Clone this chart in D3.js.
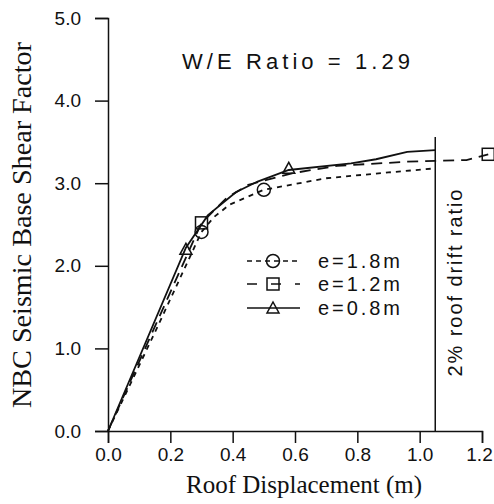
<!DOCTYPE html>
<html>
<head>
<meta charset="utf-8">
<script src="https://cdn.jsdelivr.net/npm/d3@7"></script>
<style>
  body { margin: 0; background: #fff; }
  text { fill: #111; }
</style>
</head>
<body>
<div id="chart"></div>
<script>
// Data
var xTicks = [0, 0.2, 0.4, 0.6, 0.8, 1.0, 1.2];
var yTicks = [0, 1, 2, 3, 4, 5];

var seriesNames = ["e=1.8m", "e=1.2m", "e=0.8m"];

var e18X = [0, 0.15, 0.30, 0.34, 0.39, 0.50, 0.70, 0.90, 1.05];
var e18Y = [0, 1.19, 2.41, 2.59, 2.74, 2.92, 3.06, 3.13, 3.18];
var e18MarkX = [0.30, 0.50];
var e18MarkY = [2.41, 2.92];

var e12X = [0, 0.30, 0.38, 0.45, 0.59, 0.735, 0.96, 1.05, 1.15, 1.22];
var e12Y = [0, 2.52, 2.82, 2.98, 3.12, 3.21, 3.26, 3.27, 3.28, 3.35];
var e12MarkX = [0.30, 1.22];
var e12MarkY = [2.52, 3.35];

var e08X = [0, 0.25, 0.32, 0.41, 0.48, 0.58, 0.78, 0.86, 0.96, 1.05];
var e08Y = [0, 2.22, 2.61, 2.89, 3.02, 3.16, 3.24, 3.29, 3.38, 3.40];
var e08MarkX = [0.25, 0.58];
var e08MarkY = [2.20, 3.18];

// 2% roof drift ratio line
var driftX = 1.05;
var driftTop = 3.56;

//Define SVG area
var svgWidth = 494;
var svgHeight = 504;

var svg = d3.select("#chart")
  .append("svg")
  .attr("width", svgWidth)
  .attr("height", svgHeight);

//Scales
var xScale = d3.scaleLinear()
  .domain([0, 1.2])
  .range([108, 482]);

var yScale = d3.scaleLinear()
  .domain([0, 5])
  .range([431, 18]);

var tickFont = "'Liberation Sans', Arial, sans-serif";
var serifFont = "'Liberation Serif', 'Times New Roman', serif";

//Axes
var bottomAxis = d3.axisBottom(xScale)
  .tickValues(xTicks)
  .tickFormat(d3.format(".1f"))
  .tickSize(12)
  .tickPadding(5);

var leftAxis = d3.axisLeft(yScale)
  .tickValues(yTicks)
  .tickFormat(d3.format(".1f"))
  .tickSize(13)
  .tickPadding(14);

var gx = svg.append("g")
  .attr("transform", `translate(0, ${yScale(0)})`)
  .call(bottomAxis);

var gy = svg.append("g")
  .attr("transform", `translate(${xScale(0)}, 0)`)
  .call(leftAxis);

[gx, gy].forEach(function(g) {
  g.selectAll("path, line").attr("stroke", "#111").attr("stroke-width", 1.5);
  g.selectAll("text")
    .attr("font-family", tickFont)
    .attr("font-size", 19)
    .attr("fill", "#111");
});

// keep the last x label inside the page
gx.selectAll(".tick text")
  .filter(d => d == 1.2)
  .attr("dx", -3);

//Axis titles
svg.append("text")
  .attr("x", 304)
  .attr("y", 493)
  .attr("text-anchor", "middle")
  .attr("font-family", serifFont)
  .attr("font-size", 25)
  .text("Roof Displacement (m)");

svg.append("text")
  .attr("transform", "translate(31, 225) rotate(-90)")
  .attr("text-anchor", "middle")
  .attr("font-family", serifFont)
  .attr("font-size", 27)
  .attr("textLength", 366)
  .attr("lengthAdjust", "spacingAndGlyphs")
  .text("NBC Seismic Base Shear Factor");

//Annotation
svg.append("text")
  .attr("x", 182)
  .attr("y", 69)
  .attr("font-family", tickFont)
  .attr("font-size", 22)
  .attr("textLength", 228)
  .attr("lengthAdjust", "spacing")
  .text("W/E Ratio = 1.29");

//Drift line
svg.append("line")
  .attr("x1", xScale(driftX))
  .attr("x2", xScale(driftX))
  .attr("y1", yScale(0))
  .attr("y2", yScale(driftTop))
  .attr("stroke", "#111")
  .attr("stroke-width", 1.5);

svg.append("text")
  .attr("transform", `translate(${xScale(driftX) + 27}, 283) rotate(-90)`)
  .attr("text-anchor", "middle")
  .attr("font-family", tickFont)
  .attr("font-size", 20)
  .attr("textLength", 187)
  .attr("lengthAdjust", "spacing")
  .text("2% roof drift ratio");

//Curves
var series = [
  {name: seriesNames[0], x: e18X, y: e18Y, mx: e18MarkX, my: e18MarkY, dash: "5,5", mark: "circle"},
  {name: seriesNames[1], x: e12X, y: e12Y, mx: e12MarkX, my: e12MarkY, dash: "11,7", mark: "square"},
  {name: seriesNames[2], x: e08X, y: e08Y, mx: e08MarkX, my: e08MarkY, dash: null, mark: "triangle"}
];

var line = d3.line()
  .x(d => xScale(d[0]))
  .y(d => yScale(d[1]));

function drawMark(g, type, cx, cy) {
  if (type == "circle") {
    g.append("circle").attr("cx", cx).attr("cy", cy).attr("r", 6.5);
  } else if (type == "square") {
    g.append("rect").attr("x", cx - 6).attr("y", cy - 6).attr("width", 12).attr("height", 12);
  } else {
    g.append("path").attr("d", `M${cx - 6},${cy + 5}L${cx + 6},${cy + 5}L${cx},${cy - 6}Z`);
  }
}

series.forEach(function(s) {
  var pts = s.x.map((v, i) => [v, s.y[i]]);
  svg.append("path")
    .attr("d", line(pts))
    .attr("fill", "none")
    .attr("stroke", "#111")
    .attr("stroke-width", 1.8)
    .attr("stroke-dasharray", s.dash);

  var mg = svg.append("g")
    .attr("fill", "none")
    .attr("stroke", "#111")
    .attr("stroke-width", 1.5);
  s.mx.forEach(function(v, i) {
    drawMark(mg, s.mark, xScale(v), yScale(s.my[i]));
  });
});

//Legend
var legendY = [261, 284, 308];
var legendDash = ["5,4", "10,14", null];
series.forEach(function(s, i) {
  var ly = legendY[i];
  svg.append("line")
    .attr("x1", 247).attr("x2", 300)
    .attr("y1", ly).attr("y2", ly)
    .attr("stroke", "#111")
    .attr("stroke-width", 1.6)
    .attr("stroke-dasharray", legendDash[i]);
  var mg = svg.append("g")
    .attr("fill", "none")
    .attr("stroke", "#111")
    .attr("stroke-width", 1.5);
  drawMark(mg, s.mark, 273, ly);
  svg.append("text")
    .attr("x", 318)
    .attr("y", ly + 7)
    .attr("font-family", tickFont)
    .attr("font-size", 20)
    .attr("textLength", 82)
    .attr("lengthAdjust", "spacing")
    .text(s.name);
});
</script>
</body>
</html>
